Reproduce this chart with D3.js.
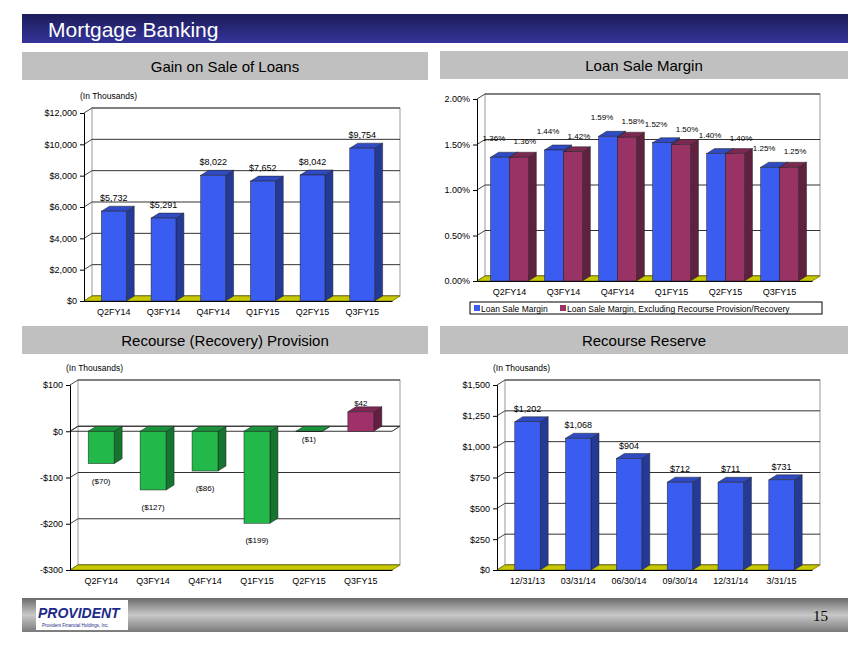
<!DOCTYPE html>
<html><head><meta charset="utf-8">
<script src="https://cdn.jsdelivr.net/npm/d3@7"></script>
<style>body{margin:0;background:#fff}svg{font-family:Arial,"Liberation Sans",sans-serif}</style>
</head><body>
<svg id="slide" width="864" height="648"></svg>
<script>
var quarters = ["Q2FY14","Q3FY14","Q4FY14","Q1FY15","Q2FY15","Q3FY15"];
var gainValues = [5732, 5291, 8022, 7652, 8042, 9754];
var gainTicks = [0, 2000, 4000, 6000, 8000, 10000, 12000];
var marginValues = [1.36, 1.44, 1.59, 1.52, 1.40, 1.25];
var marginExclValues = [1.36, 1.42, 1.58, 1.50, 1.40, 1.25];
var marginTicks = [0, 0.5, 1.0, 1.5, 2.0];
var provisionValues = [-70, -127, -86, -199, -1, 42];
var provisionTicks = [-300, -200, -100, 0, 100];
var reserveDates = ["12/31/13","03/31/14","06/30/14","09/30/14","12/31/14","3/31/15"];
var reserveValues = [1202, 1068, 904, 712, 711, 731];
var reserveTicks = [0, 250, 500, 750, 1000, 1250, 1500];

var svg = d3.select("#slide");
var defs = svg.append("defs");
var tg = defs.append("linearGradient").attr("id","titleGrad").attr("x1",0).attr("y1",0).attr("x2",0).attr("y2",1);
tg.append("stop").attr("offset","0%").attr("stop-color","#1c1c5a");
tg.append("stop").attr("offset","100%").attr("stop-color","#34349a");
var fg = defs.append("linearGradient").attr("id","footGrad").attr("x1",0).attr("y1",0).attr("x2",0).attr("y2",1);
fg.append("stop").attr("offset","0%").attr("stop-color","#6a6a6a");
fg.append("stop").attr("offset","50%").attr("stop-color","#c8c8c8");
fg.append("stop").attr("offset","100%").attr("stop-color","#7a7a7a");

// title + footer
svg.append("rect").attr("x",22).attr("y",14).attr("width",826).attr("height",29).attr("fill","url(#titleGrad)");
svg.append("text").attr("x",48).attr("y",37).attr("fill","#fff").attr("font-size",21).text("Mortgage Banking");
svg.append("rect").attr("x",22).attr("y",598).attr("width",826).attr("height",34).attr("fill","url(#footGrad)");
svg.append("rect").attr("x",36).attr("y",600).attr("width",92).attr("height",30).attr("fill","#fff");
svg.append("text").attr("x",38).attr("y",618).attr("fill","#1c2a8a").attr("font-size",14).attr("font-weight","bold").attr("font-style","italic").text("PROVIDENT");
svg.append("text").attr("x",42).attr("y",627).attr("fill","#1c2a8a").attr("font-size",4.5).text("Provident Financial Holdings, Inc.");
svg.append("text").attr("x",828).attr("y",621).attr("text-anchor","end").attr("font-family","Liberation Serif,serif").attr("font-size",15).text("15");

function header(x, y, w, label) {
  svg.append("rect").attr("x",x).attr("y",y).attr("width",w).attr("height",28).attr("fill","#c0c0c0");
  svg.append("text").attr("x",x+w/2).attr("y",y+20).attr("text-anchor","middle").attr("font-size",15).text(label);
}
header(22,52,406,"Gain on Sale of Loans");
header(440,51,408,"Loan Sale Margin");
header(22,326,406,"Recourse (Recovery) Provision");
header(440,326,408,"Recourse Reserve");

var DX = 8, DY = -5;
function shade(c, k) { return d3.color(c).darker(k).toString(); }

function chart(o) {
  var g = svg.append("g");
  var y = d3.scaleLinear().domain(o.domain).range([o.bottom, o.top]);
  var x0 = d3.scaleBand().domain(o.cats).range([o.left, o.right]).paddingInner(o.pad).paddingOuter(o.pad/2+0.1);
  var base = y(o.baseVal || 0);
  // back wall
  g.append("rect").attr("x",o.left+DX).attr("y",o.top+DY).attr("width",o.right-o.left).attr("height",o.bottom-o.top)
    .attr("fill","#fff").attr("stroke","#999");
  o.ticks.forEach(function(t){
    g.append("line").attr("x1",o.left).attr("x2",o.left+DX).attr("y1",y(t)).attr("y2",y(t)+DY).attr("stroke","#444");
    g.append("line").attr("x1",o.left+DX).attr("x2",o.right+DX).attr("y1",y(t)+DY).attr("y2",y(t)+DY).attr("stroke","#333");
  });
  // floor
  var fy = y(o.domain[0]);
  g.append("polygon").attr("points",[[o.left,fy],[o.right,fy],[o.right+DX,fy+DY],[o.left+DX,fy+DY]].join(" "))
    .attr("fill","#c8c800").attr("stroke","#888800");
  if (o.baseVal === 0 && o.domain[0] < 0) {
    g.append("polygon").attr("points",[[o.left,base],[o.right,base],[o.right+DX,base+DY],[o.left+DX,base+DY]].join(" "))
      .attr("fill","none").attr("stroke","#333");
  }
  // y axis
  var ya = d3.axisLeft(y).tickValues(o.ticks).tickFormat(o.fmt).tickSize(4);
  var ag = g.append("g").attr("transform","translate("+o.left+",0)").call(ya);
  ag.selectAll("text").attr("font-size",9).attr("fill","#000");
  ag.selectAll("line,path").attr("stroke","#000");
  var xa = d3.axisBottom(x0).tickSize(0).tickPadding(8);
  var xg = g.append("g").attr("transform","translate(0,"+fy+")").call(xa);
  xg.select("path").attr("stroke","#000");
  xg.selectAll("text").attr("font-size",9).attr("fill","#000");
  if (o.units) g.append("text").attr("x",o.left-4).attr("y",o.top-14).attr("font-size",8.5).text(o.units);

  var nS = o.series.length;
  var x1 = d3.scaleBand().domain(d3.range(nS)).range([0, x0.bandwidth()]);
  var bw = x1.bandwidth();
  o.cats.forEach(function(c, i){
    o.series.forEach(function(s, j){
      var v = s.values[i];
      var col = s.colorFn ? s.colorFn(v) : s.color;
      var bx = x0(c) + x1(j);
      var yt = Math.min(y(v), base), yb = Math.max(y(v), base);
      g.append("polygon").attr("points",[[bx+bw,yt],[bx+bw+DX,yt+DY],[bx+bw+DX,yb+DY],[bx+bw,yb]].join(" "))
        .attr("fill",shade(col,1.3)).attr("stroke","#222").attr("stroke-width",0.5);
      g.append("polygon").attr("points",[[bx,yt],[bx+DX,yt+DY],[bx+bw+DX,yt+DY],[bx+bw,yt]].join(" "))
        .attr("fill",shade(col,0.6)).attr("stroke","#222").attr("stroke-width",0.5);
      g.append("rect").attr("x",bx).attr("y",yt).attr("width",bw).attr("height",Math.max(yb-yt,0.5))
        .attr("fill",col).attr("stroke","#222").attr("stroke-width",0.5);
      var ly = v >= 0 ? y(v) - 10 : y(v) + 16;
      if (o.labelOffset) ly += o.labelOffset(i, j);
      g.append("text").attr("x",bx+bw/2+(nS>1?(j?6:-6):0)).attr("y",ly).attr("text-anchor","middle")
        .attr("font-size",o.labelSize||9).text(o.labelFmt(v));
    });
  });
  return g;
}

var money = function(v){ return v < 0 ? "($" + d3.format(",")(-v) + ")" : "$" + d3.format(",")(v); };
var moneyTick = function(v){ return v < 0 ? "-$" + d3.format(",")(-v) : "$" + d3.format(",")(v); };

chart({left:84,right:392,top:113,bottom:301,domain:[0,12000],ticks:gainTicks,cats:quarters,pad:0.5,
  series:[{values:gainValues,color:"#3a5cf0"}],fmt:moneyTick,labelFmt:money,units:"(In Thousands)"});

chart({left:477,right:812,top:99,bottom:281,domain:[0,2],ticks:marginTicks,cats:quarters,pad:0.3,
  series:[{values:marginValues,color:"#3a5cf0"},{values:marginExclValues,color:"#993366"}],
  fmt:function(v){return d3.format(".2f")(v)+"%";},labelFmt:function(v){return d3.format(".2f")(v)+"%";},labelSize:8,
  labelOffset:function(i,j){return j ? -3 : -6;}});
var lg = svg.append("g");
lg.append("rect").attr("x",470).attr("y",302).attr("width",352).attr("height",12).attr("fill","#fff").attr("stroke","#000");
[["Loan Sale Margin","#3a5cf0",474],["Loan Sale Margin, Excluding Recourse Provision/Recovery","#993366",560]].forEach(function(d){
  lg.append("rect").attr("x",d[2]).attr("y",305).attr("width",6).attr("height",6).attr("fill",d[1]);
  lg.append("text").attr("x",d[2]+7).attr("y",312).attr("font-size",8.5).text(d[0]);
});

chart({left:70,right:392,top:385,bottom:570,domain:[-300,100],baseVal:0,ticks:provisionTicks,cats:quarters,pad:0.5,
  series:[{values:provisionValues,colorFn:function(v){return v<0?"#22b84a":"#a0306a";}}],
  fmt:moneyTick,labelFmt:money,units:"(In Thousands)",labelSize:8,
  labelOffset:function(i){return provisionValues[i] < 0 && provisionValues[i] > -10 ? -6 : 4;}});

chart({left:497,right:812,top:385,bottom:570,domain:[0,1500],ticks:reserveTicks,cats:reserveDates,pad:0.5,
  series:[{values:reserveValues,color:"#3a5cf0"}],fmt:moneyTick,labelFmt:money,units:"(In Thousands)"});
</script>
</body></html>
